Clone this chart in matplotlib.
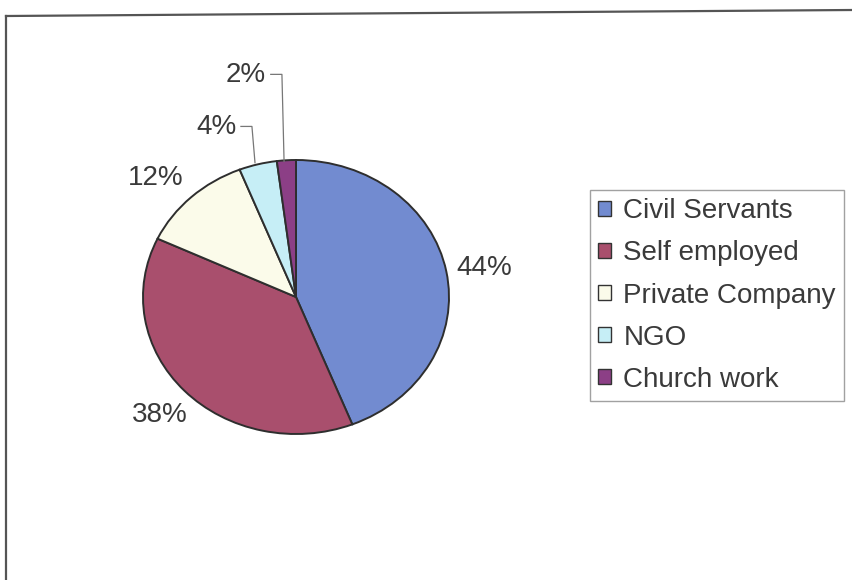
import matplotlib
matplotlib.use("Agg")
import matplotlib.pyplot as plt
from matplotlib.lines import Line2D

plt.rcParams["font.family"] = ["Liberation Sans", "DejaVu Sans"]

# data
labels = ["Civil Servants", "Self employed", "Private Company", "NGO", "Church work"]
shares = [44, 38, 12, 4, 2]
colors = ["#728bd0", "#a94f6d", "#fbfbea", "#c6eef6", "#8c3f86"]

# where the percentage texts sit (pie units, x then y)
label_pos = [(1.23, 0.21), (-0.89, -0.86), (-0.92, 0.87), (-0.52, 1.24), (-0.33, 1.62)]
TXT = "#3a3a3a"
W, H = 852, 580
FS = 20

fig = plt.figure(figsize=(W / 100, H / 100), dpi=100)
# pie is slightly squashed in the scan, so let the axes be non-square
cx, cy, rx, ry = 296, 297, 153, 137
ax = fig.add_axes([(cx - rx) / W, (H - cy - ry) / H, 2 * rx / W, 2 * ry / H])
wedges, _ = ax.pie(shares, colors=colors, startangle=90, counterclock=False,
                   wedgeprops=dict(edgecolor="#2e2e2e", linewidth=1.4))
ax.set_xlim(-1, 1); ax.set_ylim(-1, 1); ax.set_aspect("auto")
for w in wedges:
    w.set_clip_on(False)

for (x, y), s in zip(label_pos, shares):
    ax.text(x, y, f"{s}%", fontsize=FS, color=TXT, ha="center", va="center", clip_on=False)

# leader lines for the two small slices
ax.plot([-0.36, -0.288, -0.268], [1.245, 1.245, 0.98], color="#777777", lw=0.9, clip_on=False)
ax.plot([-0.165, -0.092, -0.078], [1.625, 1.625, 0.99], color="#777777", lw=0.9, clip_on=False)

handles = [plt.Rectangle((0, 0), 1, 1, facecolor=c, edgecolor="#333333", lw=1.0) for c in colors]
leg = fig.legend(handles, labels, loc="upper left", bbox_to_anchor=(590 / W, 1 - 190 / H),
                 fontsize=FS, frameon=True, fancybox=False, handlelength=0.45, handleheight=0.45,
                 handletextpad=0.45, labelspacing=0.58, borderpad=0.3, borderaxespad=0)
leg.get_frame().set_edgecolor("#8a8a8a"); leg.get_frame().set_linewidth(1.0)
for t in leg.get_texts():
    t.set_color(TXT)

# the chart border (left and top edges only, as in the scan)
fig.add_artist(Line2D([6 / W, 6 / W], [0, 1 - 16 / H], color="#555555", lw=1.6))
fig.add_artist(Line2D([6 / W, 1], [1 - 16 / H, 1 - 10 / H], color="#555555", lw=1.6))

fig.savefig("out.png", dpi=100)
